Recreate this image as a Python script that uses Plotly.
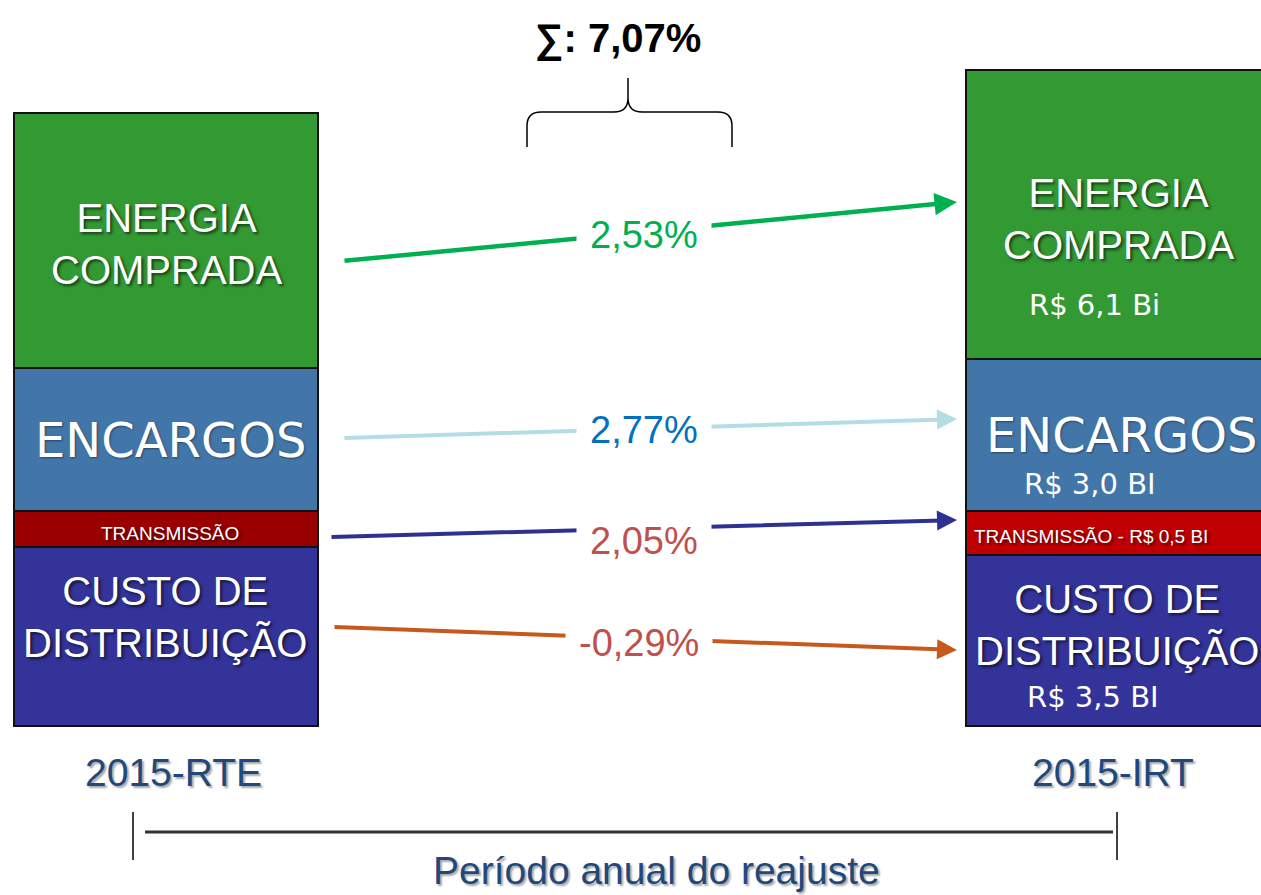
import plotly.graph_objects as go

# segments from bottom to top
segments = ["Custo de Distribuição", "Transmissão", "Encargos", "Energia Comprada"]
periods = ["2015-RTE", "2015-IRT"]
rte_heights = [179, 36, 143, 255]   # visual heights
irt_heights = [171, 44, 152, 289]
irt_values = ["R$ 3,5 BI", "R$ 0,5 BI", "R$ 3,0 BI", "R$ 6,1 Bi"]
changes = ["-0,29%", "2,05%", "2,77%", "2,53%"]
total_change = "7,07%"

rte_colors = ["#333399", "#990000", "#4275A8", "#339933"]
irt_colors = ["#333399", "#C00000", "#4275A8", "#339933"]
arrow_colors = ["#C55A1A", "#2E3192", "#B4DDE3", "#00B050"]
change_colors = ["#C0504D", "#C0504D", "#0070C0", "#00B050"]

NARROW = "Liberation Sans Narrow, Arial Narrow, Liberation Sans, Arial"
WIDE = "Liberation Sans, Arial"
VERD = "DejaVu Sans, Verdana"
WHITE_SHADOW = "2px 2px 3px rgba(0,0,0,0.6)"
BLUE_SHADOW = "2px 2px 2px rgba(0,0,0,0.35)"

BOTTOM = 726   # pixel row of the bar base


def Y(p):
    # convert a pixel row into axis units
    return BOTTOM - p


x_pos = [166, 1118]

fig = go.Figure()
for i, seg in enumerate(segments):
    fig.add_trace(go.Bar(
        x=x_pos,
        y=[rte_heights[i], irt_heights[i]],
        width=304,
        name=seg,
        marker=dict(color=[rte_colors[i], irt_colors[i]],
                    line=dict(color="#111111", width=2)),
        hoverinfo="name",
    ))

annotations = []

# arrows (tail -> head), pixel coordinates
arrow_tails = [(333, 627), (330, 537), (343, 438), (343, 261)]
arrow_heads = [(957, 650), (957, 520), (957, 419), (957, 202)]
arrow_widths = [4, 4, 4, 4.5]
for i in range(4):
    (tx, ty), (hx, hy) = arrow_tails[i], arrow_heads[i]
    annotations.append(dict(
        x=hx, y=Y(hy), ax=tx, ay=Y(ty), xref="x", yref="y", axref="x", ayref="y",
        text="", showarrow=True, arrowhead=2, arrowsize=1.0,
        arrowwidth=arrow_widths[i], arrowcolor=arrow_colors[i], standoff=0,
    ))

# change labels on the arrows
change_pos = [(639, 643), (644, 541), (644, 430), (644, 235)]
for i in range(4):
    annotations.append(dict(
        x=change_pos[i][0], y=Y(change_pos[i][1]), xref="x", yref="y",
        text=changes[i], showarrow=False, bgcolor="white", borderpad=13,
        font=dict(family=NARROW, size=38, color=change_colors[i]),
    ))


# labels inside the bars
def label(x, y, text, size, family=NARROW, color="white", shadow=WHITE_SHADOW):
    annotations.append(dict(
        x=x, y=Y(y), xref="x", yref="y", text=text, showarrow=False,
        font=dict(family=family, size=size, color=color, shadow=shadow),
    ))


label(166, 244, "ENERGIA<br>COMPRADA", 40, family=WIDE)
label(170, 440, "ENCARGOS", 48, family=VERD, shadow="1px 1px 2px rgba(0,0,0,0.4)")
label(170, 533, "TRANSMISSÃO", 19)
label(165, 617, "CUSTO DE<br>DISTRIBUIÇÃO", 40)

label(1118, 219, "ENERGIA<br>COMPRADA", 40, family=WIDE)
label(1094, 305, irt_values[3], 29, family=VERD, shadow="none")
label(1121, 435, "ENCARGOS", 48, family=VERD, shadow="1px 1px 2px rgba(0,0,0,0.4)")
label(1090, 484, irt_values[2], 29, family=VERD, shadow="none")
label(1091, 536, "TRANSMISSÃO - " + irt_values[1], 19)
label(1117, 625, "CUSTO DE<br>DISTRIBUIÇÃO", 40)
label(1093, 697, irt_values[0], 29, family=VERD, shadow="none")

# period labels
label(173, 772, periods[0], 39, color="#1F497D", shadow=BLUE_SHADOW)
label(1113, 772, periods[1], 39, color="#1F497D", shadow=BLUE_SHADOW)
label(656, 870, "Período anual do reajuste", 39, color="#1F497D", shadow=BLUE_SHADOW)

# total
label(618, 38, "<b>\u2211: " + total_change + "</b>", 40, color="black", shadow="none")

shapes = [
    # brace
    dict(type="path", xref="x", yref="y",
         path=(f"M 527,{Y(147)} L 527,{Y(126)} Q 527,{Y(112)} 541,{Y(112)} "
               f"L 614,{Y(112)} Q 628,{Y(112)} 628,{Y(98)} L 628,{Y(78)} "
               f"M 628,{Y(98)} Q 628,{Y(112)} 642,{Y(112)} "
               f"L 718,{Y(112)} Q 732,{Y(112)} 732,{Y(126)} L 732,{Y(147)}"),
         line=dict(color="black", width=1.5)),
    # period timeline
    dict(type="line", xref="x", yref="y", x0=133, x1=133, y0=Y(812), y1=Y(860),
         line=dict(color="black", width=1.5)),
    dict(type="line", xref="x", yref="y", x0=1117, x1=1117, y0=Y(812), y1=Y(860),
         line=dict(color="black", width=1.5)),
    dict(type="line", xref="x", yref="y", x0=145, x1=1113, y0=Y(832), y1=Y(832),
         line=dict(color="#333333", width=3)),
]

fig.update_layout(
    width=1261, height=895,
    margin=dict(l=0, r=0, t=0, b=0),
    barmode="stack",
    showlegend=False,
    plot_bgcolor="white", paper_bgcolor="white",
    xaxis=dict(range=[0, 1261], visible=False, fixedrange=True),
    yaxis=dict(range=[Y(895), Y(0)], visible=False, fixedrange=True),
    annotations=annotations,
    shapes=shapes,
)

# drop the default page margin so the figure fills the window
fig.write_html("out.html", config={"displayModeBar": False},
               post_script="document.body.style.margin='0';document.body.style.overflow='hidden';")
